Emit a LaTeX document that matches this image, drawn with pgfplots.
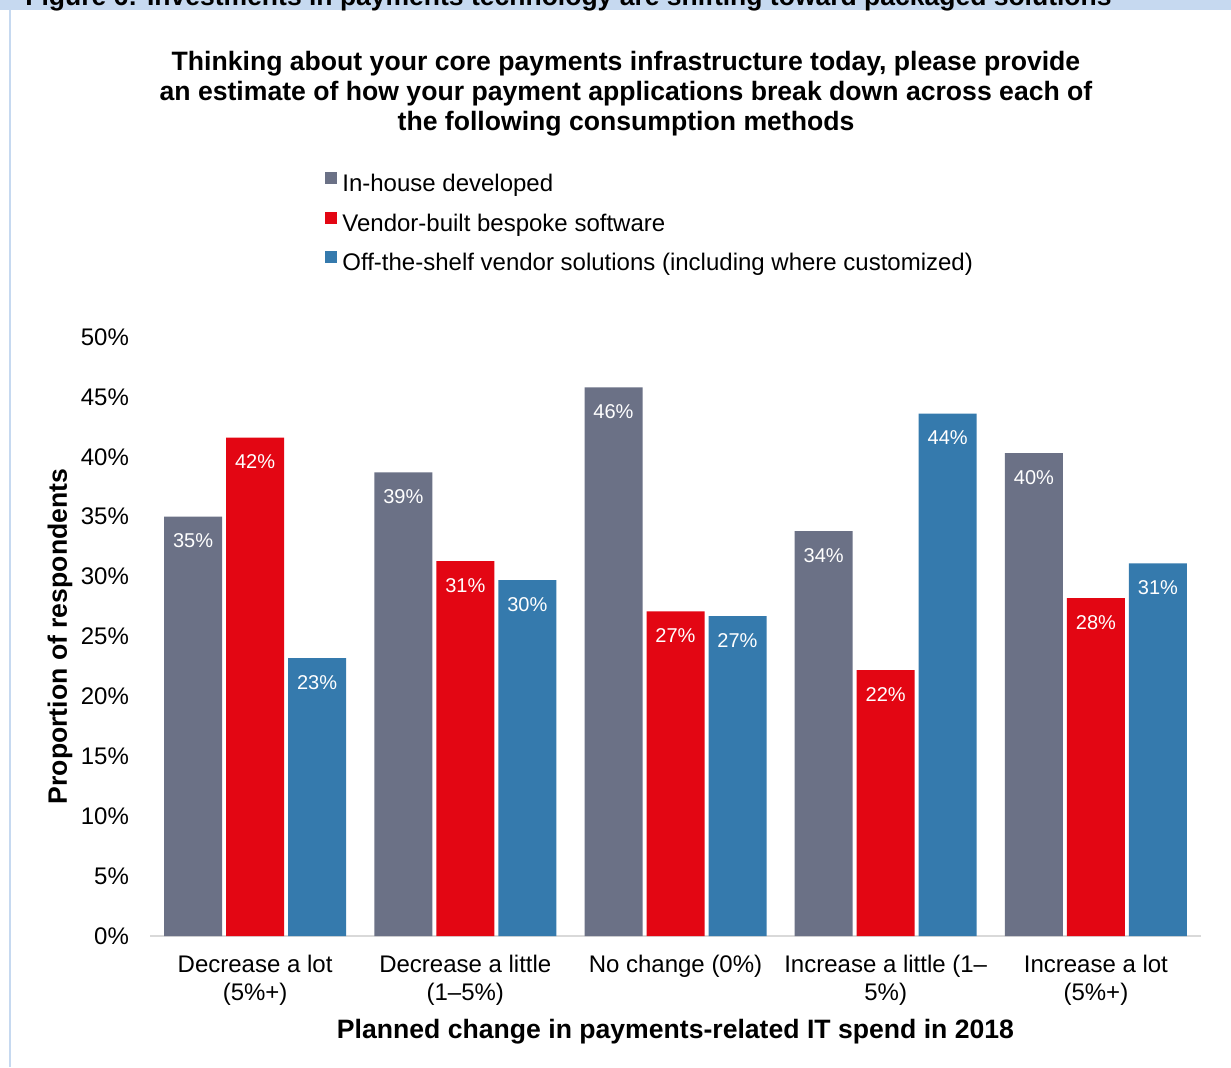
\documentclass[border=0pt]{standalone}
\usepackage{pgfplots}
\pgfplotsset{compat=1.18}
\usepackage{fontspec}
\setmainfont{Liberation Sans}
\definecolor{cgray}{RGB}{107,113,134}
\definecolor{cred}{RGB}{227,6,19}
\definecolor{cblue}{RGB}{53,122,173}
\definecolor{hdr}{RGB}{198,217,240}
\definecolor{axl}{RGB}{217,217,217}
\begin{document}
\begin{tikzpicture}
\useasboundingbox (0,0) rectangle (615.5pt,533.5pt);
\clip (0,0) rectangle (615.5pt,533.5pt);
\fill[white] (0,0) rectangle (615.5pt,533.5pt);
\fill[hdr] (0,528.5pt) rectangle (615.5pt,533.5pt);
\node[anchor=base west, inner sep=0pt, font=\bfseries\fontsize{13.25}{15}\selectfont] at (12.5pt,530.5pt) {Figure 6: Investments in payments technology are shifting toward packaged solutions};
\draw[hdr, line width=1pt] (5pt,0) -- (5pt,528.5pt);
\node[anchor=base, inner sep=0pt, font=\bfseries\fontsize{13.3}{15}\selectfont] at (313pt,498pt) {Thinking about your core payments infrastructure today, please provide};
\node[anchor=base, inner sep=0pt, font=\bfseries\fontsize{13.3}{15}\selectfont] at (313pt,483pt) {an estimate of how your payment applications break down across each of};
\node[anchor=base, inner sep=0pt, font=\bfseries\fontsize{13.3}{15}\selectfont] at (313pt,468pt) {the following consumption methods};
\begin{axis}[
  at={(75pt,65.5pt)}, anchor=south west,
  scale only axis, width=525.5pt, height=299.5pt,
  xmin=-0.5, xmax=4.5, ymin=0, ymax=50,
  enlarge x limits=false, enlarge y limits=false,
  ybar=2pt, bar width=29pt,
  /pgf/number format/assume math mode=true,
  separate axis lines,
  axis x line*=bottom, axis y line*=left,
  y axis line style={draw=none},
  x axis line style={draw=axl, line width=1pt},
  major tick length=0pt, tick style={draw=none},
  ytick={0,5,...,50},
  yticklabel={\pgfmathprintnumber{\tick}\%},
  yticklabel style={font=\fontsize{12}{14}\selectfont, xshift=-7pt},
  xtick={0,1,2,3,4},
  xticklabels={{Decrease a lot\\(5\%+)},{Decrease a little\\(1–5\%)},{No change (0\%)},{Increase a little (1–\\5\%)},{Increase a lot\\(5\%+)}},
  xticklabel style={font=\fontsize{12}{14}\selectfont, align=center, yshift=-6pt},
  ylabel={Proportion of respondents},
  ylabel style={font=\bfseries\fontsize{13.3}{15}\selectfont, at={(axis description cs:-0.0856,0.5)}, anchor=center},
  xlabel={Planned change in payments-related IT spend in 2018},
  xlabel style={font=\bfseries\fontsize{13.3}{15}\selectfont, at={(axis description cs:0.5,-0.160)}, anchor=center},
  nodes near coords={\pgfmathprintnumber[fixed,precision=0]{\pgfplotspointmeta}\%},
  nodes near coords style={font=\fontsize{10}{12}\selectfont, text=white, anchor=north, yshift=-5pt},
  legend image code/.code={\fill[#1] (0pt,1pt) rectangle (6pt,7pt);},
  legend style={at={(axis description cs:0.1665,1.2755)}, anchor=north west, draw=none, fill=none, inner sep=0pt,
    font=\fontsize{12}{14}\selectfont, row sep=7.5pt, column sep=2.5pt,
    nodes={inner sep=0pt, text height=8pt, text depth=2.5pt}},
  legend cell align=left,
]
\addplot[fill=cgray, draw=none] coordinates {(0,35) (1,38.7) (2,45.8) (3,33.8) (4,40.3)};
\addplot[fill=cred, draw=none] coordinates {(0,41.6) (1,31.3) (2,27.1) (3,22.2) (4,28.2)};
\addplot[fill=cblue, draw=none] coordinates {(0,23.2) (1,29.7) (2,26.7) (3,43.6) (4,31.1)};
\legend{In-house developed, Vendor-built bespoke software, Off-the-shelf vendor solutions (including where customized)}
\end{axis}
\end{tikzpicture}
\end{document}
